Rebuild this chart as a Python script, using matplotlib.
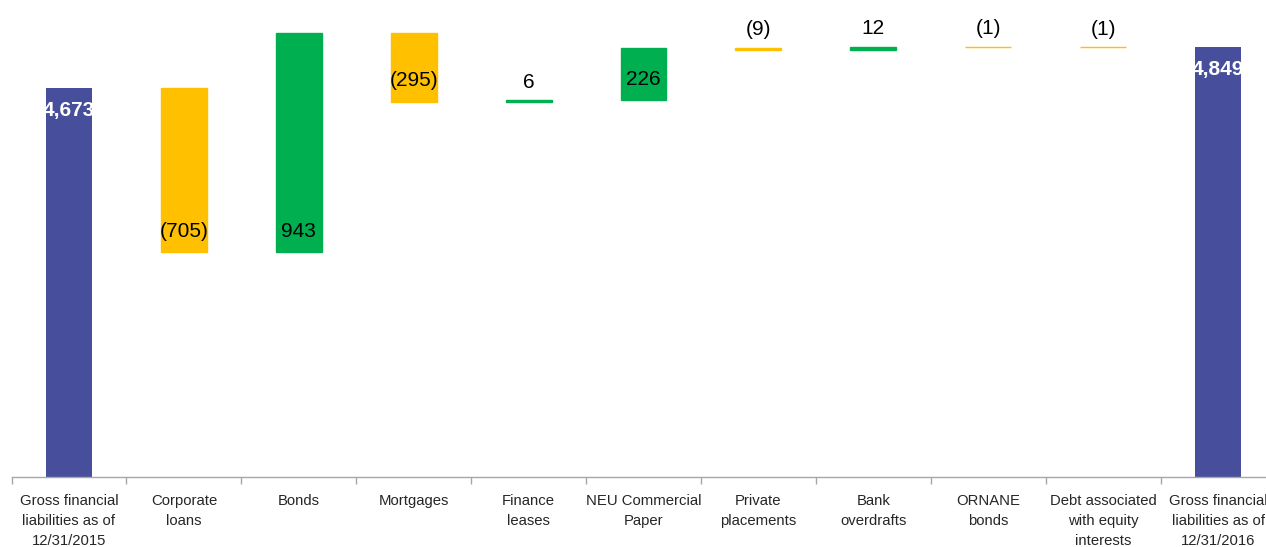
import matplotlib.pyplot as plt
from matplotlib.ticker import FixedLocator

plt.rcParams['font.family'] = ['Liberation Sans Narrow', 'Liberation Sans', 'DejaVu Sans']

categories = [
    "Gross financial\nliabilities as of\n12/31/2015",
    "Corporate\nloans",
    "Bonds",
    "Mortgages",
    "Finance\nleases",
    "NEU Commercial\nPaper",
    "Private\nplacements",
    "Bank\noverdrafts",
    "ORNANE\nbonds",
    "Debt associated\nwith equity\ninterests",
    "Gross financial\nliabilities as of\n12/31/2016",
]
openingTotal = 4673
changes = [-705, 943, -295, 6, 226, -9, 12, -1, -1]
closingTotal = 4849

TOTAL_COLOR = '#474F9D'
UP_COLOR = '#00B050'
DOWN_COLOR = '#FFC000'
AXIS_COLOR = '#A6A6A6'


def fmt(v):
    s = f"{abs(v):,}"
    return f"({s})" if v < 0 else s


fig = plt.figure(figsize=(12.66, 5.47), dpi=100)
ax = fig.add_axes([11.55 / 1266, 1 - 477.3 / 547, 1263.9 / 1266, 465.0 / 547])

barWidth = 0.4
n = len(categories)

# opening and closing totals
ax.bar([0, n - 1], [openingTotal, closingTotal], width=barWidth, color=TOTAL_COLOR)
for x, v in [(0, openingTotal), (n - 1, closingTotal)]:
    ax.annotate(fmt(v), (x, v), xytext=(0, -22), textcoords='offset pixels',
                ha='center', va='center', color='white', fontweight='bold', fontsize=15)

# floating change bars
running = openingTotal
for i, delta in enumerate(changes, start=1):
    color = UP_COLOR if delta > 0 else DOWN_COLOR
    low = min(running, running + delta)
    high = max(running, running + delta)
    ax.bar(i, high - low, bottom=low, width=barWidth, color=color,
           edgecolor=color, linewidth=1.0)
    if abs(delta) < 50:
        ax.annotate(fmt(delta), (i, high), xytext=(0, 18), textcoords='offset pixels',
                    ha='center', va='center', color='black', fontsize=15)
    else:
        ax.annotate(fmt(delta), (i, low), xytext=(0, 21), textcoords='offset pixels',
                    ha='center', va='center', color='black', fontsize=15)
    running += delta

ax.set_xlim(-0.5, n - 0.5)
ax.set_ylim(3000, 5000)

for side in ['top', 'right', 'left']:
    ax.spines[side].set_visible(False)
ax.spines['bottom'].set_color(AXIS_COLOR)
ax.spines['bottom'].set_linewidth(1.0)
ax.set_yticks([])

ax.set_xticks(range(n))
ax.set_xticklabels(categories, fontsize=10.7, color='#262626', linespacing=1.55)
ax.tick_params(axis='x', which='major', length=0, pad=12)
ax.xaxis.set_minor_locator(FixedLocator([k - 0.5 for k in range(n + 1)]))
ax.tick_params(axis='x', which='minor', length=5, color=AXIS_COLOR, width=1.0)

fig.savefig('out.png', dpi=100)
